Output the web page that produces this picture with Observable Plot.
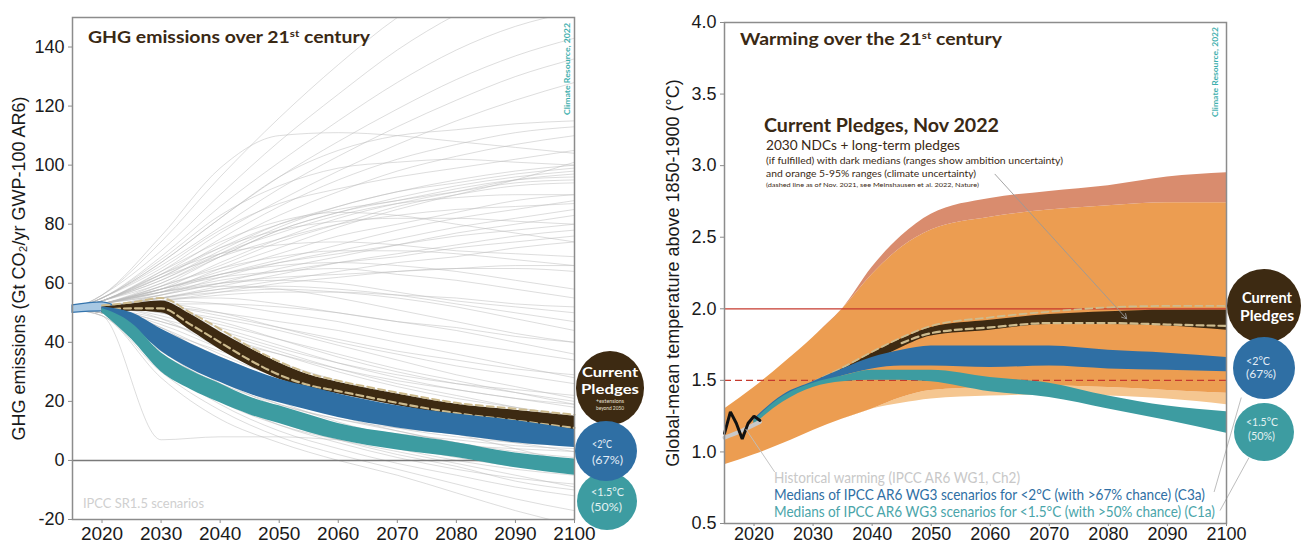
<!DOCTYPE html>
<html>
<head>
<meta charset="utf-8">
<script src="https://cdn.jsdelivr.net/npm/d3@7"></script>
<script src="https://cdn.jsdelivr.net/npm/@observablehq/plot@0.6"></script>
<style>
html,body{margin:0;padding:0;background:#fff;}
#wrap{position:relative;width:1301px;height:546px;overflow:hidden;background:#fff;}
#wrap > .panel{position:absolute;top:0;}
#wrap > svg.overlay{position:absolute;left:0;top:0;pointer-events:none;}
</style>
</head>
<body>
<div id="wrap"></div>
<script>
// ---------- shared axis values ----------
const decadeTicks = [2020, 2030, 2040, 2050, 2060, 2070, 2080, 2090, 2100];
const emissionTicks = [-20, 0, 20, 40, 60, 80, 100, 120, 140];
const warmingTicks = [0.5, 1.0, 1.5, 2.0, 2.5, 3.0, 3.5, 4.0];

// ---------- left panel: GHG emissions (Gt CO2-eq/yr) ----------
const scenarioYears = [2015, 2020, 2030, 2040, 2050, 2060, 2070, 2080, 2090, 2100];
const sr15Scenarios = [
  [51,56,74,96,116,134,150,162,172,180],
  [51,56,71,90,108,124,139,151,160,167],
  [51,55,69,86,101,115,128,139,147,152],
  [51,55,67,82,96,108,119,129,137,143],
  [51,55,66,79,92,103,113,122,130,136],
  [51,54,64,77,88,98,107,115,122,128],
  [51,56,76,99,110,111,110,108,106,104],
  [51,55,67,82,96,105,110,112,114,115],
  [51,54,63,75,86,95,102,107,111,113],
  [51,54,62,73,83,91,98,103,107,110],
  [51,55,65,78,87,92,96,99,102,105],
  [51,54,60,70,79,86,91,95,98,100],
  [51,54,61,71,80,86,91,94,97,99],
  [51,53,59,69,78,84,89,93,96,98],
  [51,53,58,67,75,82,87,91,95,97],
  [51,54,62,72,80,85,88,92,95,96],
  [51,53,60,69,78,84,88,91,94,95],
  [51,53,57,65,72,79,85,90,95,101],
  [51,53,59,66,74,80,86,90,93,94],
  [51,54,61,70,77,83,87,89,90,90],
  [51,55,68,83,93,99,101,102,101,100],
  [51,54,62,69,75,80,83,85,86,87],
  [51,54,63,72,78,81,82,82,81,80],
  [51,53,58,64,70,76,80,84,88,90],
  [51,53,57,63,68,73,78,82,85,88],
  [51,53,56,62,67,71,75,79,82,85],
  [51,52,56,60,65,69,73,77,80,83],
  [51,53,58,63,67,70,73,76,78,80],
  [51,52,55,59,63,67,70,73,76,78],
  [51,53,57,61,64,67,69,72,74,76],
  [51,52,55,58,61,64,67,69,72,74],
  [51,53,56,60,62,63,64,65,66,66],
  [51,52,54,57,60,62,64,65,65,64],
  [51,53,58,62,64,65,63,61,58,55],
  [51,53,58,63,66,67,66,64,61,58],
  [51,52,55,58,59,58,56,53,50,47],
  [51,53,57,60,61,60,57,54,52,50],
  [51,52,54,56,57,57,56,55,53,52],
  [51,52,55,57,58,57,55,52,48,44],
  [51,53,57,59,58,55,51,47,43,40],
  [51,53,59,65,69,71,71,70,68,66],
  [51,54,63,70,73,74,73,71,70,69],
  [51,54,64,74,81,84,83,80,77,74],
  [51,52,53,53,52,50,47,44,40,36],
  [51,52,52,50,47,44,40,36,32,28],
  [51,52,52,49,45,41,37,34,31,29],
  [51,52,51,48,44,39,34,29,25,21],
  [51,52,50,46,41,36,31,27,23,19],
  [51,52,50,44,38,33,29,26,24,22],
  [51,51,48,42,36,30,25,21,18,15],
  [51,51,47,41,36,31,27,24,21,19],
  [51,52,49,43,37,31,26,22,18,14],
  [51,51,46,38,31,25,20,16,12,9],
  [51,51,44,37,31,26,22,19,17,15],
  [51,51,44,35,27,21,16,12,8,5],
  [51,51,42,32,24,18,13,9,6,3],
  [51,50,41,33,26,21,17,14,12,10],
  [51,50,40,29,21,15,10,6,3,1],
  [51,50,38,27,18,12,7,3,0,-2],
  [51,50,38,30,24,19,14,9,4,-1],
  [51,50,36,24,15,9,4,0,-3,-5],
  [51,50,36,26,19,14,10,6,2,-3],
  [51,50,34,21,12,6,1,-3,-6,-8],
  [51,50,32,19,10,4,-1,-5,-9,-12],
  [51,49,30,17,8,2,-3,-8,-13,-17],
  [51,49,28,14,6,0,-5,-11,-17,-22],
  [51,50,35,22,13,7,2,-2,-7,-10],
  [51,50,39,26,17,10,5,1,-2,-4],
  [51,51,45,36,28,22,17,13,10,8],
  [51,51,47,40,33,27,22,18,14,11],
  [51,52,50,45,39,33,28,24,21,18],
  [51,52,53,50,45,40,36,32,29,26],
  [51,52,54,53,50,47,43,40,37,34],
  [51,52,55,55,53,50,47,45,42,40],
  [51,49,7,8,8,7,6,5,4,3],
  [51,51,43,30,20,13,8,4,1,-1],
  [51,51,41,28,19,14,11,9,7,6],
  [51,50,37,25,17,12,9,7,5,4],
  [51,52,48,38,28,20,14,10,7,5],
  [51,51,45,33,23,16,11,8,6,5],
  [51,52,51,47,41,35,30,26,23,20],
  [51,50,33,20,12,7,3,-1,-5,-9]
];

const emisHistYears = [2015, 2020, 2022];
const emisHistLow = [50, 50.5, 50.5];
const emisHistHigh = [52.5, 53.5, 52.5];

const emisBandYears = [2020, 2025, 2030, 2035, 2040, 2045, 2050, 2055, 2060, 2070, 2080, 2090, 2100];
const pledgesEmisLow  = [50, 50.5, 50, 44, 37.5, 32, 27.5, 24.5, 22.5, 18.5, 15, 12.5, 10];
const pledgesEmisHigh = [52, 53, 54, 49.5, 43.5, 38, 33, 29, 26.5, 22.5, 19, 17, 15];
const pledges2021EmisUpper = [52.5, 53.5, 55, 50, 44.5, 38.5, 33.5, 29.5, 27, 23, 19.5, 17.5, 15.5];
const pledges2021EmisLower = [51, 51.5, 51.5, 46, 40, 34, 29, 25.5, 23.5, 19.5, 16, 13.5, 11];
const below2EmisLow  = [50, 45.5, 37, 31, 26.5, 22.5, 19.5, 17, 14.5, 11, 8.5, 6, 4.4];
const below2EmisHigh = [52, 50, 44.5, 39.5, 35, 31, 27.5, 25, 22.5, 18.5, 15.7, 13.5, 10.5];
const below15EmisLow  = [50, 41, 30, 24, 19.5, 15.5, 12.5, 9.5, 7, 3.5, 1, -2.5, -5];
const below15EmisHigh = [51.5, 46.5, 36.5, 30.5, 26, 21.5, 18.5, 15.5, 12.5, 9, 6, 2.5, 0.5];
const zeroLine = [0];

// ---------- right panel: warming (°C above 1850-1900) ----------
const rangeYears = [2015, 2020, 2025, 2030, 2035, 2040, 2045, 2050, 2060, 2070, 2080, 2090, 2100];
const rangeLowest   = [0.91, 0.98, 1.06, 1.15, 1.23, 1.30, 1.34, 1.37, 1.39, 1.40, 1.39, 1.37, 1.33];
const rangeLow      = [0.91, 0.98, 1.06, 1.15, 1.23, 1.30, 1.38, 1.43, 1.45, 1.46, 1.45, 1.43, 1.41];
const rangeHigh     = [1.30, 1.45, 1.62, 1.80, 2.00, 2.24, 2.43, 2.55, 2.64, 2.69, 2.72, 2.74, 2.74];
const rangeHighest  = [1.30, 1.45, 1.62, 1.80, 2.00, 2.29, 2.51, 2.66, 2.77, 2.82, 2.86, 2.92, 2.95];

const pledgeTempYears = [2030, 2035, 2040, 2045, 2050, 2060, 2070, 2080, 2090, 2100];
const pledgeTempLow  = [1.47, 1.54, 1.63, 1.73, 1.81, 1.85, 1.89, 1.89, 1.88, 1.85];
const pledgeTempHigh = [1.49, 1.58, 1.69, 1.79, 1.87, 1.92, 1.96, 1.98, 1.99, 1.99];
const pledge2021TempUpper = [1.49, 1.59, 1.70, 1.80, 1.88, 1.94, 1.98, 2.01, 2.02, 2.02];
const pledge2021LowerYears = [2045, 2050, 2060, 2070, 2080, 2090, 2100];
const pledge2021TempLower = [1.76, 1.83, 1.87, 1.90, 1.90, 1.89, 1.88];

const medianYears = [2020, 2025, 2030, 2035, 2040, 2045, 2050, 2060, 2070, 2080, 2090, 2100];
const c3aLow  = [1.20, 1.36, 1.46, 1.53, 1.58, 1.60, 1.60, 1.59, 1.60, 1.58, 1.57, 1.56];
const c3aHigh = [1.23, 1.40, 1.49, 1.58, 1.66, 1.71, 1.74, 1.74, 1.74, 1.71, 1.69, 1.66];
const c1aLow  = [1.19, 1.35, 1.45, 1.49, 1.50, 1.50, 1.49, 1.42, 1.38, 1.30, 1.22, 1.13];
const c1aHigh = [1.22, 1.39, 1.48, 1.53, 1.57, 1.57, 1.57, 1.52, 1.48, 1.39, 1.32, 1.28];

const observedYears = [2015, 2016, 2017, 2018, 2019, 2020, 2021];
const observedWarming = [1.13, 1.28, 1.20, 1.09, 1.20, 1.25, 1.22];
const assessedYears = [2015, 2018, 2021];
const assessedWarming = [1.10, 1.15, 1.21];

const goal2 = [2.0];
const goal15 = [1.5];

// leader lines: [x1, y1, x2, y2]
const pledgeArrow = [2060.8, 2.94, 2083.1, 1.93];
const historyLeader = [2018.6, 1.16, 2023.5, 0.86];
const c3aLeader = [2097.9, 0.72, 2102.5, 1.38];
const c1aLeader = [2098.9, 0.59, 2103.8, 0.96];

// ---------- helpers ----------
const band = (years, lo, hi) => years.map((year, i) => ({year, lo: lo[i], hi: hi[i]}));
const series = (years, vals) => years.map((year, i) => ({year, value: vals[i]}));
const leader = ([x1, y1, x2, y2]) => [{x1, y1, x2, y2}];

const scenarioRows = sr15Scenarios.flatMap((vals, id) =>
  scenarioYears.map((year, j) => ({id, year, value: vals[j]})));

const axisFont = "'Liberation Sans', Arial, sans-serif";
const baseStyle = {fontFamily: axisFont, fontSize: "18px", color: "#1a1a1a", background: "transparent", overflow: "visible"};

const BROWN = "#3d2a12", BLUE = "#2f6fa4", TEAL = "#3d9ca1", TAN = "#cdbb8e";

// ---------- left chart ----------
const left = Plot.plot({
  width: 650, height: 546,
  marginLeft: 72, marginRight: 76, marginTop: 17, marginBottom: 27,
  style: baseStyle,
  x: {domain: [2015, 2100]},
  y: {domain: [-20, 150]},
  marks: [
    Plot.line(scenarioRows, {x: "year", y: "value", z: "id", stroke: "#b9b9b9", strokeOpacity: 0.55, strokeWidth: 0.9, curve: "monotone-x", clip: true}),
    Plot.ruleY(zeroLine, {stroke: "#7a7a7a", strokeWidth: 1.6}),
    Plot.areaY(band(emisHistYears, emisHistLow, emisHistHigh), {x: "year", y1: "lo", y2: "hi", fill: "#a8c8e3", stroke: "#3474ad", strokeWidth: 1.2, curve: "monotone-x"}),
    Plot.areaY(band(emisBandYears, pledgesEmisLow, pledgesEmisHigh), {x: "year", y1: "lo", y2: "hi", fill: BROWN, curve: "monotone-x"}),
    Plot.line(series(emisBandYears, pledges2021EmisUpper), {x: "year", y: "value", stroke: TAN, strokeWidth: 2, strokeDasharray: "7,4", curve: "monotone-x"}),
    Plot.line(series(emisBandYears, pledges2021EmisLower), {x: "year", y: "value", stroke: TAN, strokeWidth: 2.2, strokeDasharray: "7,4", curve: "monotone-x"}),
    Plot.areaY(band(emisBandYears, below2EmisLow, below2EmisHigh), {x: "year", y1: "lo", y2: "hi", fill: BLUE, curve: "monotone-x"}),
    Plot.areaY(band(emisBandYears, below15EmisLow, below15EmisHigh), {x: "year", y1: "lo", y2: "hi", fill: TEAL, curve: "monotone-x"}),
    Plot.frame({stroke: "#8c8c8c", strokeWidth: 1.5}),
    Plot.axisX({ticks: decadeTicks, tickFormat: d => String(d), tickSize: 4, tickPadding: 3, stroke: "#8c8c8c", fontSize: 19, label: null}),
    Plot.axisY({ticks: emissionTicks, tickFormat: d => String(d), tickSize: 4, tickPadding: 4, stroke: "#8c8c8c", fontSize: 18,
      label: "GHG emissions (Gt CO\u2082/yr GWP-100 AR6)", labelAnchor: "center", labelOffset: 60, labelArrow: "none"})
  ]
});
left.classList.add("panel");
left.style.left = "0px";

// ---------- right chart ----------
const right = Plot.plot({
  width: 651, height: 546,
  marginLeft: 74, marginRight: 75, marginTop: 22, marginBottom: 23,
  style: baseStyle,
  x: {domain: [2015, 2100]},
  y: {domain: [0.5, 4.0]},
  marks: [
    Plot.areaY(band(rangeYears, rangeLowest, rangeLow), {x: "year", y1: "lo", y2: "hi", fill: "#f5c690", curve: "monotone-x"}),
    Plot.areaY(band(rangeYears, rangeLow, rangeHigh), {x: "year", y1: "lo", y2: "hi", fill: "#ec9d51", curve: "monotone-x"}),
    Plot.areaY(band(rangeYears, rangeHigh, rangeHighest), {x: "year", y1: "lo", y2: "hi", fill: "#d98c6e", curve: "monotone-x"}),
    Plot.ruleY(goal2, {stroke: "#c63a2e", strokeWidth: 1.3}),
    Plot.ruleY(goal15, {stroke: "#c63a2e", strokeWidth: 1.4, strokeDasharray: "7,4"}),
    Plot.areaY(band(pledgeTempYears, pledgeTempLow, pledgeTempHigh), {x: "year", y1: "lo", y2: "hi", fill: BROWN, curve: "monotone-x"}),
    Plot.line(series(pledgeTempYears, pledge2021TempUpper), {x: "year", y: "value", stroke: TAN, strokeWidth: 1.8, strokeDasharray: "7,4", curve: "monotone-x"}),
    Plot.line(series(pledge2021LowerYears, pledge2021TempLower), {x: "year", y: "value", stroke: TAN, strokeWidth: 2.2, strokeDasharray: "7,4", curve: "monotone-x"}),
    Plot.areaY(band(medianYears, c3aLow, c3aHigh), {x: "year", y1: "lo", y2: "hi", fill: BLUE, curve: "monotone-x"}),
    Plot.areaY(band(medianYears, c1aLow, c1aHigh), {x: "year", y1: "lo", y2: "hi", fill: TEAL, curve: "monotone-x"}),
    Plot.line(series(assessedYears, assessedWarming), {x: "year", y: "value", stroke: "#c9c9c9", strokeWidth: 4, curve: "monotone-x"}),
    Plot.line(series(observedYears, observedWarming), {x: "year", y: "value", stroke: "#111", strokeWidth: 3, strokeLinejoin: "miter"}),
    Plot.arrow(leader(pledgeArrow), {x1: "x1", y1: "y1", x2: "x2", y2: "y2", stroke: "#9a9a9a", strokeWidth: 0.9, headLength: 9}),
    Plot.link(leader(historyLeader), {x1: "x1", y1: "y1", x2: "x2", y2: "y2", stroke: "#bdbdbd", strokeWidth: 0.9}),
    Plot.link(leader(c3aLeader), {x1: "x1", y1: "y1", x2: "x2", y2: "y2", stroke: "#b5b5b5", strokeWidth: 0.9}),
    Plot.link(leader(c1aLeader), {x1: "x1", y1: "y1", x2: "x2", y2: "y2", stroke: "#b5b5b5", strokeWidth: 0.9}),
    Plot.frame({stroke: "#8c8c8c", strokeWidth: 1.5}),
    Plot.axisX({ticks: decadeTicks, tickFormat: d => String(d), tickSize: 3, tickPadding: 1, stroke: "#8c8c8c", fontSize: 18, label: null}),
    Plot.axisY({ticks: warmingTicks, tickFormat: d => d.toFixed(1), tickSize: 4, tickPadding: 4, stroke: "#8c8c8c", fontSize: 18,
      label: "Global-mean temperature above 1850-1900 (\u00b0C)", labelAnchor: "center", labelOffset: 58, labelArrow: "none"})
  ]
});
right.classList.add("panel");
right.style.left = "650px";

const wrap = document.getElementById("wrap");
wrap.append(left, right);

// ---------- titles, notes and legend badges ----------
const ov = d3.select(wrap).append("svg").attr("class", "overlay").attr("width", 1301).attr("height", 546);
const bodyFont = "Lato, 'Open Sans', sans-serif";

function txt(x, y, parts, o = {}) {
  const size = o.size || 14;
  const t = ov.append("text").attr("x", x).attr("y", y)
    .attr("font-family", o.family || bodyFont)
    .attr("font-size", size)
    .attr("font-weight", o.weight || 400)
    .attr("fill", o.fill || "#222")
    .attr("text-anchor", o.anchor || "start");
  if (o.transform) t.attr("transform", o.transform);
  const list = Array.isArray(parts) ? parts : [[parts]];
  let raised = false;
  for (const [s, sup] of list) {
    const span = t.append("tspan").text(s);
    if (sup) { span.attr("font-size", size * 0.6).attr("dy", -size * 0.38); raised = true; }
    else if (raised) { span.attr("dy", size * 0.38); raised = false; }
  }
  if (o.width) t.attr("textLength", o.width).attr("lengthAdjust", "spacingAndGlyphs");
  return t;
}

// left panel headings
txt(88, 43, [["GHG emissions over 21"], ["st", true], [" century"]], {size: 17, weight: 700, fill: "#3a2914", width: 282});
txt(570, 115, "Climate Resource, 2022", {size: 7, weight: 700, fill: "#3fb0ae", width: 92, transform: "rotate(-90 570 115)"});
txt(83, 508, "IPCC SR1.5 scenarios", {size: 14, fill: "#cfcfcf", width: 121});

// right panel headings
txt(740, 45, [["Warming over the 21"], ["st", true], [" century"]], {size: 17, weight: 700, fill: "#3a2914", width: 262});
txt(1218, 117, "Climate Resource, 2022", {size: 7, weight: 700, fill: "#3fb0ae", width: 90, transform: "rotate(-90 1218 117)"});
txt(764, 132, "Current Pledges, Nov 2022", {size: 19, weight: 700, fill: "#3a2914", width: 235});
txt(766, 150, "2030 NDCs + long-term pledges", {size: 14, fill: "#3a2914", width: 194});
txt(766, 164, "(if fulfilled) with dark medians (ranges show ambition uncertainty)", {size: 10, fill: "#3a2914", width: 297});
txt(766, 177, "and orange 5-95% ranges (climate uncertainty)", {size: 10, fill: "#3a2914", width: 210});
txt(766, 187, "(dashed line as of Nov. 2021, see Meinshausen et al. 2022, Nature)", {size: 6.5, fill: "#3a2914", width: 213});
txt(774, 483, "Historical warming (IPCC AR6 WG1, Ch2)", {size: 15, fill: "#c8c8c8", width: 246});
txt(774, 500, "Medians of IPCC AR6 WG3 scenarios for <2\u00b0C (with >67% chance) (C3a)", {size: 15, fill: BLUE, width: 431});
txt(774, 517, "Medians of IPCC AR6 WG3 scenarios for <1.5\u00b0C (with >50% chance) (C1a)", {size: 15, fill: "#4aa5aa", width: 441});

// legend badges
function badge(cx, cy, rx, ry, fill) {
  ov.append("ellipse").attr("cx", cx).attr("cy", cy).attr("rx", rx).attr("ry", ry).attr("fill", fill);
}
// left badges
badge(610, 388, 34, 37, BROWN);
badge(607, 501, 30, 29, TEAL);
badge(606, 451, 31, 30, BLUE);
txt(610, 377, "Current", {size: 14, weight: 700, fill: "#fff", anchor: "middle", width: 56});
txt(610, 394, "Pledges", {size: 14, weight: 700, fill: "#fff", anchor: "middle", width: 58});
txt(610, 403, "+extensions", {size: 5, fill: "#e8e0d4", anchor: "middle", width: 28});
txt(610, 410, "beyond 2050", {size: 5, fill: "#e8e0d4", anchor: "middle", width: 28});
txt(592, 448, "<2\u00b0C", {size: 12, fill: "#e3edf6", width: 20});
txt(592, 464, "(67%)", {size: 12, fill: "#e3edf6", width: 31});
txt(591, 496, "<1.5\u00b0C", {size: 12, fill: "#e3f2f2", width: 33});
txt(591, 511, "(50%)", {size: 12, fill: "#e3f2f2", width: 31});

// right badges
badge(1264, 306, 37, 37, BROWN);
badge(1264, 368, 31, 31, BLUE);
badge(1264, 432, 30, 29, TEAL);
txt(1267, 303, "Current", {size: 15, weight: 700, fill: "#fff", anchor: "middle", width: 50});
txt(1267, 321, "Pledges", {size: 15, weight: 700, fill: "#fff", anchor: "middle", width: 54});
txt(1246, 365, "<2\u00b0C", {size: 11, fill: "#e3edf6", width: 24});
txt(1246, 378, "(67%)", {size: 11, fill: "#e3edf6", width: 30});
txt(1246, 426, "<1.5\u00b0C", {size: 11, fill: "#e3f2f2", width: 32});
txt(1248, 440, "(50%)", {size: 11, fill: "#e3f2f2", width: 27});
</script>
</body>
</html>
